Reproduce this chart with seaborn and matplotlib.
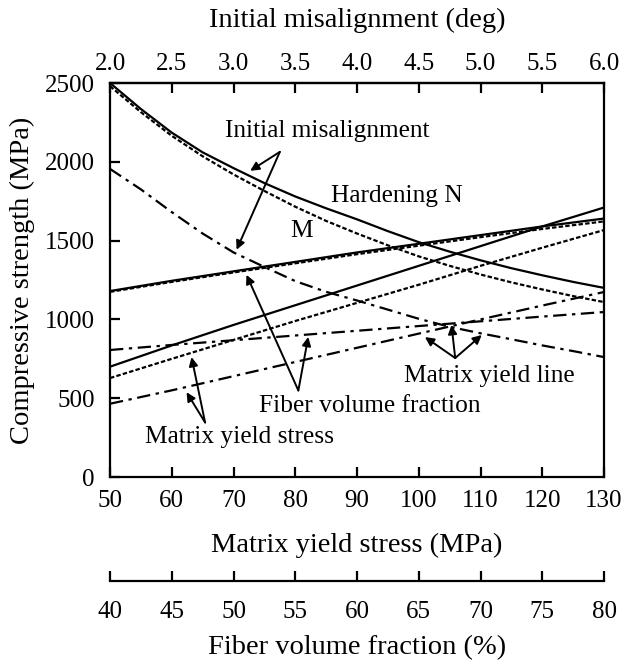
import pandas as pd
import seaborn as sns
import matplotlib.pyplot as plt

# Initial misalignment (deg) -> top axis
misalign_deg = [2.0, 2.25, 2.5, 2.75, 3.0, 3.25, 3.5, 3.75, 4.0,
                4.25, 4.5, 4.75, 5.0, 5.25, 5.5, 5.75, 6.0]
misalign_N = [2500, 2335, 2185, 2060, 1960, 1865, 1780, 1705, 1635,
              1560, 1490, 1430, 1375, 1325, 1280, 1238, 1200]
misalign_M = [2480, 2315, 2165, 2035, 1920, 1815, 1715, 1625, 1545,
              1470, 1400, 1340, 1285, 1235, 1190, 1148, 1110]
misalign_yield = [1955, 1825, 1681, 1545, 1425, 1333, 1243, 1175, 1120,
                  1062, 1004, 953, 912, 874, 835, 799, 761]

# Matrix yield stress (MPa) -> bottom axis
yield_mpa = [50, 60, 70, 80, 90, 100, 110, 120, 130]
yield_N = [700, 835, 965, 1090, 1215, 1340, 1465, 1590, 1710]
yield_M = [628, 750, 870, 990, 1105, 1220, 1340, 1455, 1567]
yield_line = [465, 550, 640, 730, 820, 910, 1000, 1088, 1174]

# Fiber volume fraction (%) -> second bottom axis
fiber_pct = [40, 45, 50, 55, 60, 65, 70, 75, 80]
fiber_N = [1180, 1245, 1305, 1365, 1425, 1480, 1535, 1590, 1640]
fiber_M = [1175, 1238, 1298, 1356, 1414, 1468, 1522, 1574, 1622]
fiber_yield = [806, 838, 868, 898, 928, 958, 988, 1018, 1047]

top_ticks = [2.0, 2.5, 3.0, 3.5, 4.0, 4.5, 5.0, 5.5, 6.0]
bottom_ticks = [50, 60, 70, 80, 90, 100, 110, 120, 130]
fiber_ticks = [40, 45, 50, 55, 60, 65, 70, 75, 80]
y_ticks = [0, 500, 1000, 1500, 2000, 2500]

sns.set_theme(style="ticks")
plt.rcParams['font.family'] = ['Liberation Serif', 'DejaVu Serif']
plt.rcParams['text.color'] = 'black'
plt.rcParams['axes.labelcolor'] = 'black'
plt.rcParams['xtick.color'] = 'black'
plt.rcParams['ytick.color'] = 'black'
FS_TICK = 18
FS_TEXT = 18.3
FS_LABEL = 20.5

styles = {
    'N': dict(color='black', lw=1.6, linestyle='-'),
    'M': dict(color='black', lw=1.6, linestyle=(0, (2, 1))),
    'Y': dict(color='black', lw=1.6, linestyle=(0, (6, 2.5, 1.5, 2.5))),
}

fig = plt.figure(figsize=(6.24, 6.63), dpi=100)
ax = fig.add_axes([0.1763, 0.2805, 0.7917, 0.5943])
ax_top = ax.twiny()
ax_fv = ax.twiny()

# curves vs matrix yield stress
for key, vals in [('N', yield_N), ('M', yield_M), ('Y', yield_line)]:
    df = pd.DataFrame({'x': yield_mpa, 'y': vals})
    sns.lineplot(data=df, x='x', y='y', ax=ax, **styles[key])

# curves vs initial misalignment
for key, vals in [('N', misalign_N), ('M', misalign_M), ('Y', misalign_yield)]:
    df = pd.DataFrame({'x': misalign_deg, 'y': vals})
    sns.lineplot(data=df, x='x', y='y', ax=ax_top, **styles[key])

# curves vs fiber volume fraction
for key, vals in [('N', fiber_N), ('M', fiber_M), ('Y', fiber_yield)]:
    df = pd.DataFrame({'x': fiber_pct, 'y': vals})
    sns.lineplot(data=df, x='x', y='y', ax=ax_fv, **styles[key])

ax.set_xlim(50, 130)
ax.set_ylim(0, 2500)
ax_top.set_xlim(2, 6)
ax_fv.set_xlim(40, 80)

ax.set_xticks(bottom_ticks)
ax.set_yticks(y_ticks)
ax_top.set_xticks(top_ticks)
ax_top.set_xticklabels([f"{t:.1f}" for t in top_ticks])
ax_fv.set_xticks(fiber_ticks)

for a in (ax, ax_top, ax_fv):
    for s in a.spines.values():
        s.set_linewidth(1.6)
        s.set_color('black')

ax.tick_params(axis='x', direction='in', length=7, width=1.6, labelsize=FS_TICK, pad=9,
               bottom=True, top=False)
ax.tick_params(axis='y', direction='in', length=7, width=1.6, labelsize=FS_TICK, pad=11,
               left=True, right=False)
ax_top.tick_params(axis='x', direction='in', length=7, width=1.6, labelsize=FS_TICK, pad=6,
                   top=True, bottom=False, labeltop=True, labelbottom=False)

# second bottom axis for fiber volume fraction
ax_fv.xaxis.set_ticks_position('bottom')
ax_fv.xaxis.set_label_position('bottom')
ax_fv.spines['bottom'].set_position(('outward', 75))
for side in ('top', 'left', 'right'):
    ax_fv.spines[side].set_visible(False)
ax_fv.tick_params(axis='x', direction='in', length=7, width=1.6, labelsize=FS_TICK, pad=14,
                  bottom=True, top=False, labelbottom=True, labeltop=False)
for side in ('bottom', 'left', 'right'):
    ax_top.spines[side].set_visible(False)

ax.set_xlabel("Matrix yield stress (MPa)", fontsize=FS_LABEL)
ax.set_ylabel("Compressive strength (MPa)", fontsize=FS_LABEL)
ax_top.set_xlabel("Initial misalignment (deg)", fontsize=FS_LABEL)
ax_fv.set_xlabel("Fiber volume fraction (%)", fontsize=FS_LABEL)
ax.xaxis.set_label_coords(0.5, -0.142)
ax.yaxis.set_label_coords(-0.152, 0.5)
ax_top.xaxis.set_label_coords(0.5, 1.142)
ax_fv.xaxis.set_label_coords(0.5, -0.402)

# annotations (in matrix-yield-stress / strength coordinates)
arrow = dict(arrowstyle='-|>', color='black', lw=1.4, mutation_scale=13,
             shrinkA=0, shrinkB=0)
kw = dict(fontsize=FS_TEXT, ha='center', va='center', color='black')

ax.text(85.2, 2195, "Initial misalignment", **kw)
ax.annotate("", xy=(72.7, 1943), xytext=(77.5, 2063), arrowprops=arrow)
ax.annotate("", xy=(70.5, 1442), xytext=(77.5, 2063), arrowprops=arrow)

ax.text(96.5, 1780, "Hardening N", **kw)
ax.text(81.0, 1560, "M", **kw)

ax.text(92.0, 453, "Fiber volume fraction", **kw)
ax.annotate("", xy=(72.1, 1283), xytext=(80.5, 549), arrowprops=arrow)
ax.annotate("", xy=(82.1, 889), xytext=(80.5, 549), arrowprops=arrow)

ax.text(70.9, 254, "Matrix yield stress", **kw)
ax.annotate("", xy=(63.2, 761), xytext=(65.4, 346), arrowprops=arrow)
ax.annotate("", xy=(62.4, 538), xytext=(65.4, 346), arrowprops=arrow)

ax.text(111.4, 641, "Matrix yield line", **kw)
ax.annotate("", xy=(101.0, 888), xytext=(105.9, 755), arrowprops=arrow)
ax.annotate("", xy=(105.3, 964), xytext=(105.9, 755), arrowprops=arrow)
ax.annotate("", xy=(110.2, 901), xytext=(105.9, 755), arrowprops=arrow)

fig.savefig("out.png", dpi=100)
